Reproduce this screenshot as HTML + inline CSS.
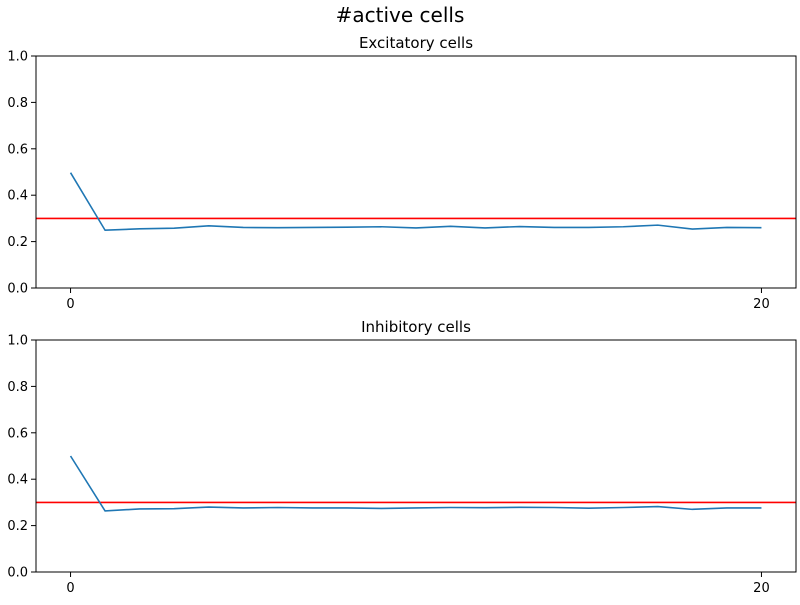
<!DOCTYPE html>
<html><head><meta charset="utf-8"><style>
body{margin:0;background:#fff;width:800px;height:600px;overflow:hidden}
text{font-family:"DejaVu Sans","Liberation Sans",sans-serif}
</style></head><body>
<svg id="fig" width="800" height="600" xmlns="http://www.w3.org/2000/svg">
<text x="400" y="22" font-size="20" text-anchor="middle">#active cells</text>
</svg>
<script>
const categories = [0,1,2,3,4,5,6,7,8,9,10,11,12,13,14,15,16,17,18,19,20];
const excitatoryValues = [0.497,0.249,0.255,0.258,0.268,0.261,0.260,0.261,0.262,0.264,0.259,0.266,0.259,0.265,0.261,0.261,0.264,0.271,0.254,0.261,0.260];
const inhibitoryValues = [0.500,0.263,0.272,0.273,0.280,0.276,0.278,0.276,0.276,0.274,0.276,0.278,0.277,0.279,0.278,0.275,0.278,0.282,0.270,0.276,0.276];
const targetLevel = [0.3, 0.3];
const yTicks = [0.0,0.2,0.4,0.6,0.8,1.0];
const xTicks = [0,20];
const NS="http://www.w3.org/2000/svg";
const svg=document.getElementById('fig');
function mk(tag,attrs,parent){const e=document.createElementNS(NS,tag);for(const k in attrs)e.setAttribute(k,attrs[k]);(parent||svg).appendChild(e);return e;}
function panel(top,title,vals,target,key){
  const L=36,R=796,T=top,B=top+232;
  const g=mk('g',{});
  
  
  const xs=v=>L+(v+1)/22*(R-L);
  const ys=v=>B-v*(B-T);
  const t=mk('text',{x:(L+R)/2,y:T-8,'font-size':15,'text-anchor':'middle'},g);t.textContent=title;
  
  
  yTicks.forEach(v=>{mk('line',{x1:L-5,x2:L,y1:ys(v),y2:ys(v),stroke:'#000'},g);
    const tx=mk('text',{x:L-8,y:ys(v)+4.5,'font-size':13,'text-anchor':'end'},g);tx.textContent=v.toFixed(1);
    
    });
  xTicks.forEach(v=>{mk('line',{x1:xs(v),x2:xs(v),y1:B,y2:B+5,stroke:'#000'},g);
    const tx=mk('text',{x:xs(v),y:B+20,'font-size':13,'text-anchor':'middle'},g);tx.textContent=v;
    
    });
  const red=mk('line',{x1:L,x2:R,y1:ys(target[0]),y2:ys(target[1]),stroke:'#ff0000','stroke-width':1.6},g);
  
  
  const p=mk('polyline',{points:vals.map((v,i)=>xs(categories[i])+','+ys(v)).join(' '),fill:'none',stroke:'#1f77b4','stroke-width':1.6},g);
  
  
  const f=mk('rect',{x:L,y:T,width:R-L,height:B-T,fill:'none',stroke:'#000','stroke-width':1},g);
  
  
}
panel(56,'Excitatory cells',excitatoryValues,targetLevel,'excitatory');
panel(340,'Inhibitory cells',inhibitoryValues,targetLevel,'inhibitory');
</script>
</body></html>
